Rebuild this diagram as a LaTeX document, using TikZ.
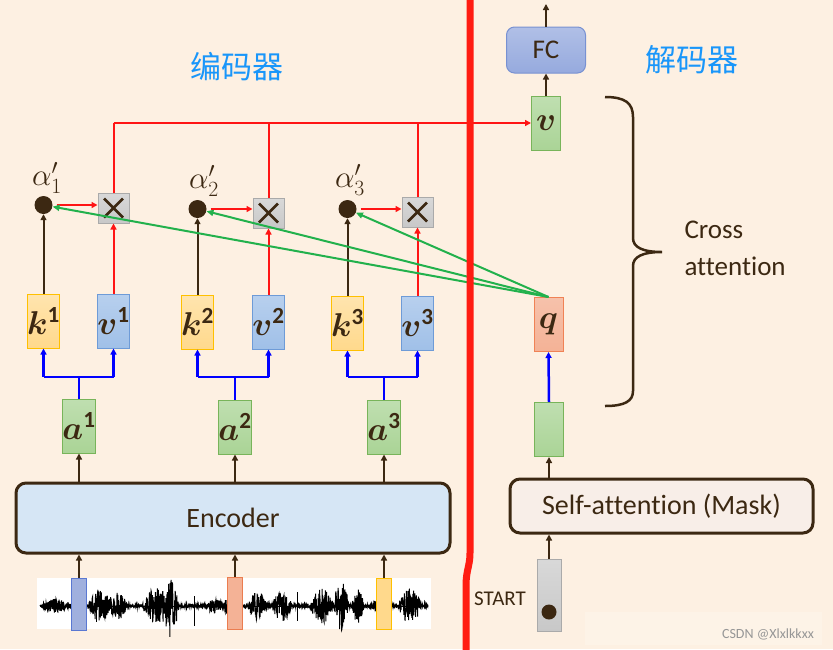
\RequirePackage{fix-cm}
\documentclass[tikz,border=0pt]{standalone}
\usepackage{fontspec}
\setmainfont{Carlito}[Ligatures=NoCommon]
\newfontfamily\cjk{Noto Sans CJK SC}
\usepackage{bm}
\usetikzlibrary{arrows.meta,calc}
\definecolor{bg}{RGB}{253,240,226}
\definecolor{txt}{RGB}{60,40,18}
\definecolor{cnblue}{RGB}{25,150,250}
\definecolor{kfill}{RGB}{255,217,140}
\definecolor{kdraw}{RGB}{255,192,0}
\definecolor{vfill}{RGB}{160,192,232}
\definecolor{vdraw}{RGB}{110,155,215}
\definecolor{gfill}{RGB}{170,212,150}
\definecolor{gdraw}{RGB}{120,180,90}
\definecolor{qfill}{RGB}{244,178,150}
\definecolor{qdraw}{RGB}{240,130,85}
\definecolor{xfill}{RGB}{200,200,200}
\definecolor{xdraw}{RGB}{170,170,170}
\definecolor{fcfill}{RGB}{150,170,222}
\definecolor{fcdraw}{RGB}{120,145,210}
\definecolor{encfill}{RGB}{214,230,245}
\definecolor{safill}{RGB}{248,238,232}
\definecolor{gline}{RGB}{34,177,76}
\definecolor{rline}{RGB}{255,20,20}
\definecolor{bigred}{RGB}{255,28,18}
\begin{document}
\begin{tikzpicture}[x=1pt,y=-1pt,
  declare function={bump(\t,\c,\w)=max(0,1-((\t-\c)/\w)*((\t-\c)/\w));
    env(\t)=1.5+6*bump(\t,55,12)+14*bump(\t,100,12)+12*bump(\t,118,10)
      +17*bump(\t,158,16)+24*bump(\t,172,7)+6*bump(\t,215,9)+14*bump(\t,230,6)
      +13*bump(\t,258,10)+14*bump(\t,282,10)+16*bump(\t,322,12)+24*bump(\t,341,8)
      +16*bump(\t,358,6)+6*bump(\t,378,6)+16*bump(\t,410,12);},
  vec/.style={draw, line width=1pt, minimum width=29pt, minimum height=54pt, inner sep=0pt,
    text=txt, font=\fontsize{33}{36}\selectfont},
  kbox/.style={vec, draw=kdraw, top color=kfill!70!white, bottom color=kfill},
  vbox/.style={vec, draw=vdraw, top color=vfill!75!white, bottom color=vfill},
  gbox/.style={vec, draw=gdraw, top color=gfill!75!white, bottom color=gfill},
  qbox/.style={vec, draw=qdraw, top color=qfill!80!white, bottom color=qfill},
  xbox/.style={draw=xdraw, line width=1pt, top color=xfill!70!white, bottom color=xfill, minimum width=31pt, minimum height=30pt, inner sep=0pt},
  dotn/.style={circle, fill=txt, minimum size=18pt, inner sep=0pt},
  alab/.style={text=txt, font=\fontsize{31}{34}\selectfont},
  bigbox/.style={draw=txt, line width=3pt, rounded corners=10pt, inner sep=0pt, text=txt, font=\fontsize{28}{32}\selectfont},
  cn/.style={text=cnblue, font=\cjk\fontsize{31}{36}\selectfont},
  darr/.style={draw=txt, line width=2pt, -{Triangle[length=6pt,width=6pt]}},
  rarr/.style={draw=rline, line width=2pt, -{Triangle[length=6pt,width=6pt]}},
  rline/.style={draw=rline, line width=2pt},
  barr/.style={draw=blue, line width=2.5pt, -{Triangle[length=6pt,width=6pt]}},
  bline/.style={draw=blue, line width=2.5pt},
  garr/.style={draw=gline, line width=2pt, -{Triangle[length=7pt,width=6pt]}},
]
\useasboundingbox (0,0) rectangle (833,649);
\fill[bg] (0,0) rectangle (833,649);

% Chinese titles
\node[cn] (tenc) at (237,67) {编码器};
\node[cn] (tdec) at (692,60) {解码器};

% waveform
\fill[white] (37,578) rectangle (431,629);
\pgfmathsetseed{11}
\draw[black, line width=1pt] plot[domain=40:428, samples=1600] (\x,{606+env(\x)*rand});
\draw[black, line width=1pt] (40,606) -- (428,606);
\draw[black, line width=0.9pt] (96,598) -- (96,622) (194,596) -- (194,626) (297,592) -- (297,621) (342,600) -- (342,626);
\node[draw={rgb,255:red,90;green,120;blue,210}, line width=1pt, fill={rgb,255:red,160;green,176;blue,222}, minimum width=15pt, minimum height=52pt, inner sep=0pt] (w1) at (79,604) {};
\node[draw={rgb,255:red,235;green,125;blue,80}, line width=1pt, fill=qfill, minimum width=15pt, minimum height=52pt, inner sep=0pt] (w2) at (235,603) {};
\node[draw=kdraw, line width=1pt, fill=kfill, minimum width=15pt, minimum height=51pt, inner sep=0pt] (w3) at (384,604) {};

% encoder
\node[bigbox, fill=encfill, minimum width=434pt, minimum height=70pt] (enc) at (233,518) {Encoder};

% a boxes
\node[gbox] (a1) at (79,426) {$\bm{a}^{\mathbf{1}}$};
\node[gbox] (a2) at (235,427) {$\bm{a}^{\mathbf{2}}$};
\node[gbox] (a3) at (384,427) {$\bm{a}^{\mathbf{3}}$};

% k v boxes
\node[kbox] (k1) at (43.5,321) {$\bm{k}^{\mathbf{1}}$};
\node[vbox] (v1) at (113.5,321) {$\bm{v}^{\mathbf{1}}$};
\node[kbox] (k2) at (197.5,322) {$\bm{k}^{\mathbf{2}}$};
\node[vbox] (v2) at (268.5,322) {$\bm{v}^{\mathbf{2}}$};
\node[kbox] (k3) at (347.5,323) {$\bm{k}^{\mathbf{3}}$};
\node[vbox] (v3) at (417.5,323) {$\bm{v}^{\mathbf{3}}$};

% dots and labels
\node[dotn] (d1) at (43.5,205) {};
\node[dotn] (d2) at (197.5,209) {};
\node[dotn] (d3) at (347.5,209) {};
\node[alab] (al1) at (47,178) {$\alpha'_1$};
\node[alab] (al2) at (204,181) {$\alpha'_2$};
\node[alab] (al3) at (350,180) {$\alpha'_3$};

% multiply boxes
\node[xbox] (x1) at (113.5,208) {};
\node[xbox] (x2) at (268.5,213) {};
\node[xbox] (x3) at (417.5,212) {};
\foreach \n in {x1,x2,x3}{
  \draw[txt, line width=2.8pt] ([shift={(-9.5,-9.5)}]\n.center) -- ([shift={(9.5,9.5)}]\n.center)
    ([shift={(-9.5,9.5)}]\n.center) -- ([shift={(9.5,-9.5)}]\n.center);
}

% decoder side
\node[gbox] (vd) at (546,123.5) {$\bm{v}$};
\node[draw=fcdraw, line width=1pt, top color=fcfill!75!white, bottom color=fcfill, rounded corners=8pt, minimum width=79pt, minimum height=46pt, inner sep=0pt, text=txt, font=\fontsize{27}{30}\selectfont] (fc) at (546,50) {FC};
\coordinate (out) at (546,4);
\node[qbox] (q) at (548.5,324.5) {$\bm{q}$};
\node[gbox] (gd) at (549,429.5) {};
\node[bigbox, fill=safill, minimum width=303pt, minimum height=54pt] (sa) at (661.5,506) {Self-attention (Mask)};
\node[draw=xdraw, line width=1pt, top color=xfill!70!white, bottom color=xfill, minimum width=24pt, minimum height=72pt, inner sep=0pt] (st) at (549,595) {};
\node[circle, fill=txt, minimum size=15pt, inner sep=0pt] (sd) at (549,612) {};
\node[text=txt, font=\fontsize{21}{24}\selectfont] (stt) at (500,599) {START};

% cross attention brace and text
\draw[txt, line width=2.5pt] (605,97) .. controls (625,97) and (633,103) .. (633,117) -- (633,238)
  .. controls (633,247) and (642,252) .. (662,252)
  .. controls (642,252) and (633,257) .. (633,266) -- (633,391)
  .. controls (633,401) and (625,406) .. (605,406);
\node[anchor=west, align=left, text=txt, font=\fontsize{27}{37}\selectfont] (ca) at (681,248) {Cross\\attention};

% encoder arrows
\foreach \i in {1,2,3}{
  \draw[darr] (w\i.north) -- (w\i.north |- enc.south);
  \draw[darr] (a\i |- enc.north) -- (a\i.south);
}

% blue forks
\coordinate (f) at (0,377);
\foreach \i in {1,2,3}{
  \draw[bline] (a\i.north) -- (a\i |- f);
  \draw[bline] (k\i |- f) -- (v\i |- f);
  \draw[barr] (k\i |- f) -- (k\i.south);
  \draw[barr] (v\i |- f) -- (v\i.south);
  \draw[darr] (k\i.north) -- (d\i.south);
  \draw[rarr] (v\i.north) -- (x\i.south);
  \draw[rarr, shorten <=4pt] (d\i.east) -- (x\i.west |- d\i.east);
}

% red top line
\coordinate (rt) at (113.5,123);
\draw[rline] (x1.north) -- (rt);
\draw[rline] (x2.north) -- (x2.north |- rt);
\draw[rline] (x3.north) -- (x3.north |- rt);
\draw[rarr] (rt) -- (vd.west |- rt);

% green attention lines
\foreach \i in {1,2,3}{
  \draw[garr] (q.north) -- (d\i);
}

% decoder arrows
\draw[darr] (vd.north) -- (fc.south);
\draw[darr] (fc.north) -- (out);
\draw[barr] (gd.north) -- (q.south);
\draw[darr] (sa.north -| gd) -- (gd.south);
\draw[darr] (st.north) -- (st.north |- sa.south);

% big red divider
\draw[bigred, line width=7pt] (470,-2) -- (470,553) .. controls (470,566) and (466,570) .. (466,586) -- (466,651);

% watermark
\fill[white, opacity=0.2] (585,612) rectangle (822,645);
\node[text={rgb,255:red,150;green,150;blue,150}, font=\fontsize{14}{16}\selectfont] (wm) at (768,634) {CSDN @Xlxlkkxx};
\end{tikzpicture}
\end{document}
